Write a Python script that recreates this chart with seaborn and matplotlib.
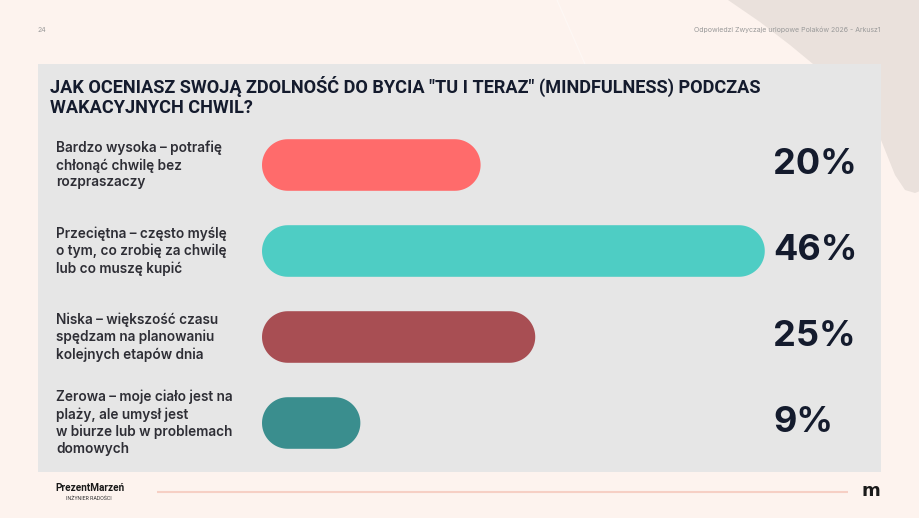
import matplotlib
matplotlib.use("Agg")
import matplotlib.pyplot as plt
from matplotlib.patches import Rectangle, Polygon
from matplotlib.transforms import blended_transform_factory, IdentityTransform
import numpy as np
import pandas as pd
import seaborn as sns

# chart data
title = 'JAK OCENIASZ SWOJĄ ZDOLNOŚĆ DO BYCIA "TU I TERAZ" (MINDFULNESS) PODCZAS\nWAKACYJNYCH CHWIL?'
categories = [
    "Bardzo wysoka – potrafię\nchłonąć chwilę bez\nrozpraszaczy",
    "Przeciętna – często myślę\no tym, co zrobię za chwilę\nlub co muszę kupić",
    "Niska – większość czasu\nspędzam na planowaniu\nkolejnych etapów dnia",
    "Zerowa – moje ciało jest na\nplaży, ale umysł jest\nw biurze lub w problemach\ndomowych",
]
values = [20, 46, 25, 9]
value_labels = ["20%", "46%", "25%", "9%"]
colors = ["#FF6B6B", "#4ECDC4", "#A84E53", "#3A8E8E"]

page_number = "24"
source_text = "Odpowiedzi Zwyczaje urlopowe Polaków 2026 - Arkusz1"

W, H = 920, 518
NAVY = "#141B2D"


def pill_points(left, bottom, width, height, n=40):
    """Outline of a bar with fully rounded ends (pixel space)."""
    r = height / 2
    cy = bottom + r
    a_left = np.linspace(np.pi / 2, 3 * np.pi / 2, n)
    a_right = np.linspace(-np.pi / 2, np.pi / 2, n)
    lx = left + r + r * np.cos(a_left)
    ly = cy + r * np.sin(a_left)
    rx = left + width - r + r * np.cos(a_right)
    ry = cy + r * np.sin(a_right)
    return np.column_stack([np.concatenate([lx, rx]), np.concatenate([ly, ry])])


fig = plt.figure(figsize=(W / 100, H / 100), dpi=100, facecolor="#FDF3EE")

# background layer in pixel coordinates
bg = fig.add_axes([0, 0, 1, 1])
bg.set_xlim(0, W)
bg.set_ylim(H, 0)
bg.axis("off")
bg.add_patch(Polygon([(728, 0), (760, 22), (790, 45), (813, 64), (881, 140), (895, 175),
                      (905, 190), (915, 193), (920, 191), (920, 0)],
                     closed=True, facecolor="#EAE1DC", edgecolor="none", zorder=0.2))
bg.plot([557, 640], [0, 190], color="#FEF8F5", lw=0.8, zorder=0.3)
bg.add_patch(Rectangle((38, 64), 843, 408, facecolor="#E6E6E6", edgecolor="none", zorder=0.5))
bg.text(38, 30, page_number, fontsize=5, color="#9A9A9A", va="center", family="Inter")
bg.text(881, 30, source_text, fontsize=5, color="#9A9A9A", va="center", ha="right", family="Inter")
bg.text(50, 96, title, fontsize=13.1, fontweight="bold", color=NAVY, va="center",
        family=["Roboto", "DejaVu Sans"], linespacing=1.15)

# footer
bg.plot([157, 848], [492, 492], color="#F6CFC4", lw=1.5, solid_capstyle="butt")
bg.text(55, 488, "PrezentMarzeń", fontsize=7.2, fontweight="bold", color="#1A1A1A",
        va="center", family="Roboto")
bg.text(89, 498, "INŻYNIER RADOŚCI", fontsize=3.8, color="#333333", va="center",
        ha="center", family="Roboto")
bg.text(871, 491, "m", fontsize=13, fontweight="bold", color="#1A1A1A", va="center",
        ha="center", family="DejaVu Sans")

# chart axes: value 0 at x=262px, 10.93 px per percent
ax = fig.add_axes([262 / W, (H - 466) / H, 619 / W, 344 / H])
ax.patch.set_alpha(0)
df = pd.DataFrame({"category": categories, "value": values})
sns.barplot(data=df, x="value", y="category", hue="category", palette=colors,
            legend=False, width=0.6, orient="h", saturation=1, ax=ax)
ax.set_xlim(0, 619 / 10.93)
ax.set_ylim(3.5, -0.5)
ax.axis("off")

# turn rectangular bars into pills, drawn in pixel space so ends are true half circles
for p in list(ax.patches):
    x, y, w, h = p.get_x(), p.get_y(), p.get_width(), p.get_height()
    (x0, y0), (x1, y1) = ax.transData.transform([(x, y), (x + w, y + h)])
    pts = pill_points(min(x0, x1), min(y0, y1), abs(x1 - x0), abs(y1 - y0))
    pill = Polygon(pts, closed=True, transform=IdentityTransform(),
                   facecolor=p.get_facecolor(), edgecolor="none", clip_on=False)
    p.remove()
    ax.add_patch(pill)

trans = blended_transform_factory(fig.transFigure, ax.transData)
for i, (cat, lab) in enumerate(zip(categories, value_labels)):
    ax.text(56 / W, i, cat, transform=trans, ha="left", va="center", fontsize=9.8,
            fontweight="semibold", color="#2E2E35", family="Inter", linespacing=1.25)
    ax.text(773 / W, i, lab, transform=trans, ha="left", va="center", fontsize=26,
            fontweight="bold", color=NAVY, family="Inter")

fig.savefig("out.png", dpi=100, facecolor=fig.get_facecolor())
